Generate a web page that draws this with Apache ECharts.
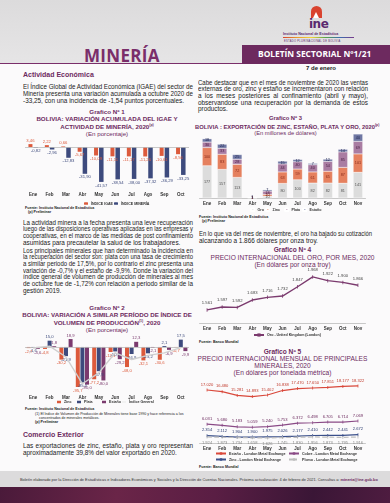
<!DOCTYPE html>
<html><head><meta charset="utf-8">
<script src="https://cdn.jsdelivr.net/npm/echarts@6/dist/echarts.min.js"></script>
<style>
html,body{margin:0;padding:0;}
body{width:390px;height:503px;position:relative;overflow:hidden;background:#fbfafb;font-family:"Liberation Sans","DejaVu Sans",sans-serif;color:#222;}
.abs{position:absolute;white-space:nowrap;}
.ln{position:absolute;white-space:nowrap;transform-origin:0 50%;}
.pt{color:#6d2a5f;text-align:center;position:absolute;white-space:nowrap;}
.chart{position:absolute;}
</style></head>
<body>
<div style="position:absolute;left:0;top:0;width:390px;height:64px;background:linear-gradient(#dcdbdc,#e6e5e6);"></div>
<div class="abs" style="left:84px;top:44px;font-size:17px;font-weight:bold;color:#7a2e6a;font-family:'Open Sans',sans-serif;letter-spacing:0.3px;">MINERÍA</div>
<div style="position:absolute;left:0;top:63px;width:243px;height:1px;background:#7a2e6a;"></div>
<div style="position:absolute;left:242px;top:45px;width:148px;height:19px;background:#6d2a5f;"></div>
<div class="abs" style="left:258px;top:48px;font-size:8.4px;font-weight:bold;color:#fff;font-family:'Open Sans',sans-serif;">BOLETÍN SECTORIAL Nº1/21</div>
<!-- logo -->
<div style="position:absolute;left:311px;top:6px;width:11px;height:12px;border-radius:6px 6px 0 0;background:#d9432f;"></div>
<div style="position:absolute;left:313px;top:12px;width:0;height:0;border-left:3.5px solid transparent;border-right:3.5px solid transparent;border-bottom:6px solid #fff;"></div>
<div class="abs" style="left:309px;top:17px;font-size:12px;font-weight:bold;color:#5a2a6e;font-family:'DejaVu Sans',sans-serif;letter-spacing:-0.5px;">ine</div>
<div class="abs" style="left:283px;top:32px;font-size:3.6px;font-weight:bold;color:#5a2a6e;">Instituto Nacional de Estadística</div>
<div style="position:absolute;left:283px;top:37px;width:71px;height:1px;background:linear-gradient(90deg,#d9432f,#e89a2b,#f2d33a,#58a14a,#3a6db0,#7a3a8a);"></div>
<div class="abs" style="left:284px;top:39.5px;font-size:2.6px;color:#5a2a6e;letter-spacing:0.3px;">ESTADO PLURINACIONAL DE BOLIVIA</div>

<div class="abs" style="left:306px;top:65px;font-size:6px;font-weight:bold;">7 de enero</div>
<div class="abs" style="left:23px;top:71px;font-size:7px;font-weight:bold;color:#6d2a5f;">Actividad Económica</div>
<div class="abs" style="left:23px;top:431px;font-size:7px;font-weight:bold;color:#6d2a5f;">Comercio Exterior</div>

<div id="texts"></div>

<!-- chart titles -->
<div class="pt" style="left:12px;width:190px;top:109px;font-size:6.2px;font-weight:bold;line-height:6.6px;">Grafico Nº 1<br>BOLIVIA: VARIACIÓN ACUMULADA DEL IGAE Y<br>ACTIVIDAD DE MINERÍA, 2020<sup style="font-size:3.5px">(p)</sup><br><span style="font-weight:normal">(En porcentaje)</span></div>
<div class="pt" style="left:12px;width:190px;top:305px;font-size:6.2px;font-weight:bold;line-height:6.5px;">Grafico Nº 2<br>BOLIVIA: VARIACIÓN A SIMILAR PERÍODO DE ÍNDICE DE<br>VOLUMEN DE PRODUCCIÓN<sup style="font-size:3.5px">(1)</sup>, 2020<br><span style="font-weight:normal">(En porcentaje)</span></div>
<div class="pt" style="left:195px;width:181px;top:114.5px;font-size:5.8px;font-weight:bold;line-height:7px;">Grafico Nº 3<br>BOLIVIA : EXPORTACIÓN DE ZINC, ESTAÑO, PLATA Y ORO, 2020<sup style="font-size:3.5px">(p)</sup><br><span style="font-weight:normal">(En millones de dólares)</span></div>
<div class="pt" style="left:195px;width:195px;top:246px;font-size:6.6px;line-height:7.6px;"><b>Grafico Nº 4</b><br>PRECIO INTERNACIONAL DEL ORO, POR MES, 2020<br>(En dólares por onza troy)</div>
<div class="pt" style="left:190px;width:185px;top:347.5px;font-size:6.6px;line-height:7.2px;"><b>Grafico Nº 5</b><br>PRECIO INTERNACIONAL MENSUAL DE PRINCIPALES<br>MINERALES, 2020<br>(En dólares por tonelada métrica)</div>

<!-- sources -->
<div class="abs" style="left:25px;top:205.5px;font-size:3.6px;font-weight:bold;line-height:4.6px;">Fuente: Instituto Nacional de Estadística<br>&nbsp;&nbsp;&nbsp;(p) Preliminar</div>
<div class="abs" style="left:25px;top:406.5px;font-size:3.6px;font-weight:bold;line-height:4.6px;">Fuente: Instituto Nacional de Estadística</div>
<div class="abs" style="left:35px;top:411.5px;font-size:3.6px;line-height:4.4px;">(1) El Índice de Volumen de Producción de Minerales tiene base 1990 y hace referencia a los<br>&nbsp;&nbsp;&nbsp;&nbsp;concentrados de minerales metálicos.<br><b>(p) Preliminar</b></div>
<div class="abs" style="left:199px;top:214.5px;font-size:3.6px;font-weight:bold;line-height:4.4px;">Fuente: Instituto Nacional de Estadística<br>&nbsp;&nbsp;&nbsp;(p) Preliminar</div>
<div class="abs" style="left:199px;top:340px;font-size:3.6px;font-weight:bold;">Fuente: Banco Mundial</div>
<div class="abs" style="left:199px;top:465px;font-size:3.6px;font-weight:bold;">Fuente: Banco Mundial</div>

<!-- footer -->
<div style="position:absolute;left:0;top:471px;width:390px;height:16px;background:#dcdbdc;"></div>
<div class="abs" style="left:20px;top:476.5px;font-size:3.9px;color:#333;">Boletín elaborado por la Dirección de Estadísticas e Indicadores Económicos y Sociales y la Dirección de Cuentas Nacionales. Próxima actualización: 4 de febrero de 2021. Consultas a: <span style="color:#6d2a5f;font-weight:bold">mineria@ine.gob.bo</span></div>
<div style="position:absolute;left:0;top:487px;width:390px;height:16px;background:linear-gradient(100deg,#4a1a3a 0%,#6a2548 30%,#5a1e44 55%,#3a1636 80%,#4e1c40 100%);"></div>

<div id="c1" class="chart" style="left:12px;top:134px;width:183px;height:76px;"></div>
<div id="c2" class="chart" style="left:12px;top:330px;width:183px;height:78px;"></div>
<div id="c3" class="chart" style="left:195px;top:130px;width:195px;height:86px;"></div>
<div id="c4" class="chart" style="left:195px;top:262px;width:195px;height:78px;"></div>
<div id="c5" class="chart" style="left:195px;top:376px;width:195px;height:88px;"></div>

<script>
// ---------------- DATA ----------------
const months10 = ['Ene','Feb','Mar','Abr','May','Jun','Jul','Ago','Sep','Oct'];
const months11 = ['Ene','Feb','Mar','Abr','May','Jun','Jul','Ago','Sep','Oct','Nov'];
// Grafico 1
const igae = [3.46, 2.22, 0.66, -5.67, -10.09, -11.11, -11.17, -11.26, -10.61, -8.56];
const mineria = [-0.82, -2.96, -12.83, -31.90, -41.57, -38.54, -38.00, -37.32, -36.29, -33.25];
// Grafico 2
const zinc2 = [-2.7, -4.8, -30.2, -95.7, -77.2, -12.1, -48.0, -32.1, -30.6, -0.7];
const plata2 = [-1.6, 15.0, -21.9, -85.0, -57.9, -10.7, -16.9, -15.2, 2.1, 17.5];
const estano2 = [-4.6, 1.8, 18.9, -90.0, -80.0, -29.2, 12.3, -2.1, -6.9, -9.9];
const general2 = [-2.5, 2.0, -24.0, -88.0, -62.0, -14.0, -30.0, -20.0, -14.0, -1.72];
// Grafico 3
const oro3 = [177, 157, 113, 1, 10, 80, 100, 82, 82, 81, 141];
const zinc3 = [100, 83, 72, 1, 10, 63, 59, 61, 65, 87, 101];
const plata3 = [30, 33, 28, 1, 18, 44, 40, 40, 54, 85, 69];
const estano3 = [18, 22, 25, 1, 7, 15, 12, 7, 12, 14, 40];
// Grafico 4
const oro4 = [1561, 1597, 1592, 1683, 1716, 1732, 1847, 1968, 1922, 1900, 1866];
// Grafico 5
const estano5 = [17020, 16480, 15281, 14893, 15402, 16838, 17470, 17650, 17851, 18177, 18322];
const cobre5 = [6031, 5680, 5183, 5059, 5240, 5753, 6372, 6498, 6705, 6714, 7069];
const zinc5 = [2354, 2112, 1904, 1900, 1975, 2026, 2177, 2410, 2442, 2441, 2672];
const plomo5 = [1924, 1873, 1734, 1658, 1626, 1745, 1830, 1956, 1873, 1795, 1916];

// ---------------- TEXT ----------------
const FONT = '"Liberation Sans","DejaVu Sans",sans-serif';
function para(x, y, w, lh, size, lines){
  const box = document.getElementById('texts');
  lines.forEach((t,i)=>{
    const d = document.createElement('div');
    d.className = 'ln';
    d.style.left = x+'px'; d.style.top = (y+i*lh)+'px';
    d.style.fontSize = size+'px'; d.style.lineHeight = lh+'px';
    const s = document.createElement('span'); s.textContent = t; d.appendChild(s);
    box.appendChild(d);
    const nat = s.getBoundingClientRect().width;
    const last = i === lines.length-1;
    if (nat > w) {
      d.style.transform = `scaleX(${w/nat})`;
    } else if (!last) {
      const n = (t.match(/ /g)||[]).length;
      if (n) s.style.wordSpacing = ((w-nat)/n)+'px';
    }
  });
}
para(23, 82.5, 170, 7, 6.4, [
 'El Índice Global de Actividad Económica (IGAE) del sector de',
 'Minería presenta una variación acumulada a octubre 2020 de',
 '-33,25, con una incidencia de -1,54 puntos porcentuales.']);
para(23, 219.5, 170, 6.7, 6.4, [
 'La actividad minera a la fecha presenta una leve recuperación',
 'luego de las disposiciones operativas aplicadas en las empresas y',
 'cooperativas, en el marco de las medidas de post confinamiento',
 'asumidas para precautelar la salud de los trabajadores.']);
para(23, 247.5, 170, 6.7, 6.4, [
 'Los principales minerales que han determinado la incidencia en',
 'la recuperación del sector son: plata con una tasa de crecimiento',
 'a similar periodo de 17,5%, por lo contrario el zinc presenta una',
 'variación de -0,7% y el estaño de -9,9%. Donde la variación del',
 'índice general de volumen de producción de minerales al mes',
 'de octubre fue de -1,72% con relación a periodo similar de la',
 'gestión 2019.']);
para(23, 441.5, 170, 7, 6.4, [
 'Las exportaciones de zinc, estaño, plata y oro representan',
 'aproximadamente 39,8% del valor exportado en 2020.']);
para(198, 79.5, 170, 6.7, 6.4, [
 'Cabe destacar que en el mes de noviembre de 2020 las ventas',
 'externas  de oro, zinc y estaño se incrementaron con relación',
 'a los meses posteriores al confinamiento (abril y mayo),',
 'observandose una recuperación por la demanda de estos',
 'productos.']);
para(199, 229.5, 173, 7, 6.4, [
 'En lo que va del mes de noviembre, el oro ha bajado su cotización',
 'alcanzando  a 1.866 dólares por onza troy.']);

// ---------------- CHARTS ----------------
const dec = (v,n)=> v.toFixed(n).replace('.',',');
const th = v => String(v).replace(/\B(?=(\d{3})+(?!\d))/g,'.');
const C_OR='#dc5a3c', C_BL='#3d4a7d', C_PU='#7b3a6e';
const axLab = {fontSize:4.5, fontWeight:'bold', color:'#333', fontFamily:FONT};
const legTxt = {fontSize:3.6, fontWeight:'bold', color:'#333', fontFamily:FONT};
// one legend component per item, placed at its own x
function legs(items, top, w, h){
  return items.map(([name,left,icon])=>{
    const d = icon ? {name, icon} : name;
    return {top, left, width:200, padding:0, itemWidth:w, itemHeight:h, itemGap:0, itemStyle:{}, textStyle:Object.assign({padding:[0,0,0,-2]}, legTxt), data:[d]};
  });
}

function barData(arr, n, color){
  return arr.map(v=>({value:v, label:{show:true, position: v>=0?'top':'bottom', distance:1.5,
     formatter: dec(v,n), fontSize:4.2, color:color, fontFamily:FONT}}));
}
// Chart 1
echarts.init(document.getElementById('c1')).setOption({
  animation:false,
  grid:{left:13, right:6, top:8.8, height:42},
  legend:legs([['ÍNDICE IGAE',72],['ÍNDICE MINERÍA',102]], 67.5, 4, 2.5),
  xAxis:{type:'category', data:months10, axisLine:{show:false}, axisTick:{show:false}, axisLabel:Object.assign({margin:7}, axLab)},
  yAxis:{type:'value', min:-45, max:5, show:false},
  series:[
    {name:'ÍNDICE IGAE', type:'bar', data:barData(igae,2,C_OR), itemStyle:{color:C_OR}, barWidth:4, barGap:'25%',
     markLine:{silent:true, symbol:'none', label:{show:false}, lineStyle:{color:'#bbb', width:0.8, type:'solid'}, data:[{yAxis:0}]}},
    {name:'ÍNDICE MINERÍA', type:'bar', data:barData(mineria,2,C_BL), itemStyle:{color:C_BL}, barWidth:4.5}
  ]
});

// Chart 2
echarts.init(document.getElementById('c2')).setOption({
  animation:false,
  grid:{left:13, right:6, top:6.5, height:52.3},
  legend:legs([['Zinc',45,'rect'],['Plata',65,'rect'],['Estaño',90,'rect'],['Índice General',110,'path://M0,4 L20,4 L20,6 L0,6 Z']], 70, 4, 2.5),
  xAxis:{type:'category', data:months10, axisLine:{show:false}, axisTick:{show:false}, axisLabel:Object.assign({margin:6}, axLab)},
  yAxis:{type:'value', min:-100, max:25, show:false},
  series:[
    {name:'Zinc', type:'bar', data:barData(zinc2,1,C_OR), itemStyle:{color:C_OR}, barWidth:4, barGap:'15%',
     markLine:{silent:true, symbol:'none', label:{show:false}, lineStyle:{color:'#bbb', width:0.8, type:'solid'}, data:[{yAxis:0}]}},
    {name:'Plata', type:'bar', data:barData(plata2,1,C_BL), itemStyle:{color:C_BL}, barWidth:4},
    {name:'Estaño', type:'bar', data:barData(estano2,1,C_PU), itemStyle:{color:C_PU}, barWidth:4},
    {name:'Índice General', type:'line', data:general2, symbol:'none', lineStyle:{color:'#cfcfcf', width:1.4}, itemStyle:{color:'#cfcfcf'}, z:5}
  ]
});

// Chart 3
const cOro='#dcdcdc', cZn='#e5805e', cPl='#a97ca2', cSn='#6f77a3';
function stackSeries(name, arr, color, lc){
  return {name, type:'bar', stack:'t', data:arr, barWidth:9.5, itemStyle:{color, borderColor:'#fff', borderWidth:0.3},
    label:{show:true, position:'inside', fontSize:3.8, color:lc, fontFamily:FONT}};
}
echarts.init(document.getElementById('c3')).setOption({
  animation:false,
  grid:{left:4.5, width:166, top:2.4, height:65.6},
  legend:legs([['Oro',55],['Zinc',70],['Plata',89],['Estaño',107]], 77.5, 3.5, 2.5),
  xAxis:{type:'category', data:months11, axisLine:{lineStyle:{color:'#bbb', width:0.8}}, axisTick:{show:false}, axisLabel:Object.assign({margin:3}, axLab)},
  yAxis:{type:'value', min:0, max:360, show:false},
  series:[
    stackSeries('Oro', oro3, cOro, '#555'),
    stackSeries('Zinc', zinc3, cZn, '#8a2a1a'),
    stackSeries('Plata', plata3, cPl, '#4a1f45'),
    stackSeries('Estaño', estano3, cSn, '#1f2550')
  ]
});

// Chart 4
echarts.init(document.getElementById('c4')).setOption({
  animation:false,
  grid:{left:4.5, width:166, top:4.2, height:56.8},
  legend:legs([['Oro - United Kingdom (London)',58]], 71, 10, 4),
  xAxis:{type:'category', data:months11, axisLine:{lineStyle:{color:'#bbb', width:0.8}}, axisTick:{show:false}, axisLabel:Object.assign({margin:3}, axLab)},
  yAxis:{type:'value', min:1400, max:2100, show:false},
  series:[{name:'Oro - United Kingdom (London)', type:'line', data:oro4, symbol:'rect', symbolSize:[0.8,3.5],
    lineStyle:{color:C_PU, width:1.4}, itemStyle:{color:C_PU},
    label:{show:true, position:'top', distance:3, fontSize:4.2, color:'#444', fontFamily:FONT, formatter:p=>th(p.value)}}]
});

// Chart 5
const c5s = (name, arr, color, pos, lc, dashed) => ({name, type:'line', data:arr, symbol:'rect', symbolSize:[0.8,3],
  lineStyle:{color, width:1.2, type: dashed?'dashed':'solid'}, itemStyle:{color},
  label:{show:true, position:pos, distance:2, fontSize:4.1, color:lc, fontFamily:FONT, formatter:p=>th(p.value)}});
echarts.init(document.getElementById('c5')).setOption({
  animation:false,
  grid:{left:4.5, width:166, top:4.7, height:62.3},
  legend:legs([['Estaño - London Metal Exchange',20],['Cobre - London Metal Exchange',93]], 75.5, 10, 3)
    .concat(legs([['Zinc - London Metal Exchange',20],['Plomo - London Metal Exchange',93]], 81.5, 10, 3)),
  xAxis:{type:'category', data:months11, axisLine:{lineStyle:{color:'#bbb', width:0.8}}, axisTick:{show:false}, axisLabel:Object.assign({margin:3}, axLab)},
  yAxis:{type:'value', min:0, max:20000, show:false},
  series:[
    c5s('Estaño - London Metal Exchange', estano5, '#d9483b', 'top', '#c0392b'),
    c5s('Cobre - London Metal Exchange', cobre5, '#8a4a86', 'top', '#6d2a5f'),
    c5s('Zinc - London Metal Exchange', zinc5, '#3a4f8a', 'top', '#2a3a70'),
    c5s('Plomo - London Metal Exchange', plomo5, '#bdbdbd', 'bottom', '#888', true)
  ]
});
</script>
</body></html>
